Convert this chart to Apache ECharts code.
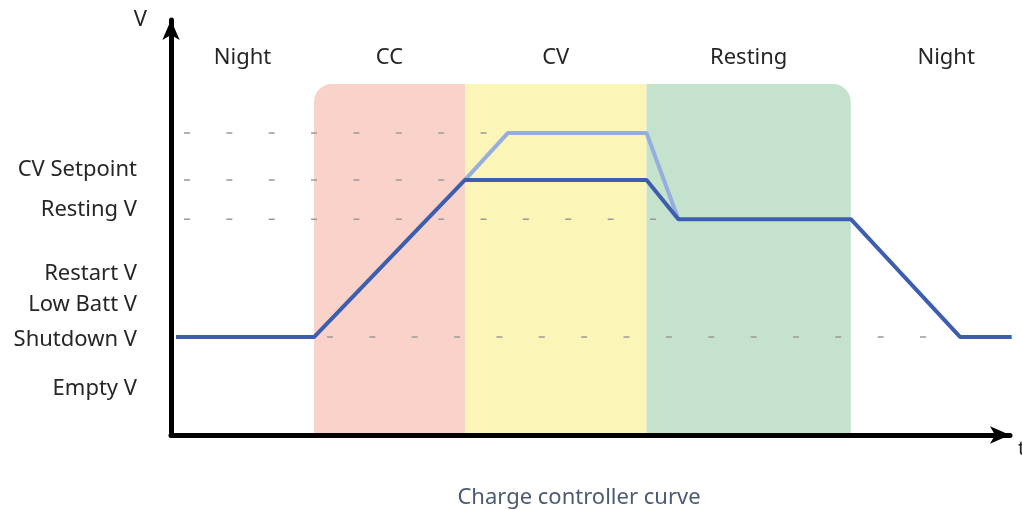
<!DOCTYPE html>
<html>
<head>
<meta charset="utf-8">
<script src="https://cdn.jsdelivr.net/npm/echarts@6/dist/echarts.min.js"></script>
<style>
  html, body { margin: 0; padding: 0; background: #fff; }
  #chart { width: 1022px; height: 510px; }
</style>
</head>
<body>
<div id="chart"></div>
<script>
// 充电阶段（x 为时间，y 为电压，单位均为任意刻度）
const phaseNames = ['Night', 'CC', 'CV', 'Resting', 'Night'];
const phaseStart = [0, 17.25, 35.46, 57.36, 82.0];
const phaseEnd = [17.25, 35.46, 57.36, 82.0, 105];
const phaseColors = [null, '#f9d3c9', '#fbf6b8', '#c5e3cc', null];
const phaseTop = 86.7;
const phaseLabelLevel = 93.3;

// 左侧电压标签
const voltNames = ['CV Setpoint', 'Resting V', 'Restart V', 'Low Batt V', 'Shutdown V', 'Empty V'];
const voltLevels = [65.4, 55.6, 39.8, 32.1, 23.5, 11.4];

// 电压曲线：深色为实际曲线，浅色为无 CV 限制时的过冲
const chargeX = [0.6, 17.25, 35.46, 57.36, 61.2, 82.0, 95.2, 101.4];
const chargeY = [24.2, 24.2, 63.0, 63.0, 53.3, 53.3, 24.2, 24.2];
const overshootX = [35.46, 40.65, 57.36, 61.2];
const overshootY = [63.0, 74.6, 74.6, 53.3];

// 虚线参考线
const guideLevels = [74.6, 63.0, 53.3, 24.2];
const guideStart = [0, 0, 0, 17.25];
const guideEnd = [40.65, 35.46, 61.2, 95.2];

const FONT = '"Noto Sans", sans-serif';
const TEXT_COLOR = '#262626';

const chart = echarts.init(document.getElementById('chart'));

const firstColored = phaseColors.findIndex(c => c);
const lastColored = phaseColors.length - 1 - [...phaseColors].reverse().findIndex(c => c);

const guideSeries = guideLevels.map((level, i) => ({
  type: 'line',
  data: [[guideStart[i], level], [guideEnd[i], level]],
  symbol: 'none',
  silent: true,
  clip: false,
  z: 3,
  lineStyle: { color: '#9a9a9a', width: 1.5, type: [6, 36.36], dashOffset: 29.36 }
}));

const option = {
  animation: false,
  backgroundColor: '#fff',
  title: {
    text: 'Charge controller curve',
    left: 574,
    textAlign: 'center',
    top: 482,
    textStyle: { color: '#4d5a73', fontSize: 22, fontWeight: 'normal', fontFamily: FONT }
  },
  grid: { left: 171, right: 12, top: 20, bottom: 75, outerBoundsMode: 'none' },
  xAxis: {
    type: 'value',
    min: 0,
    max: 101.2,
    z: 10,
    name: 't',
    nameLocation: 'end',
    nameGap: 8,
    nameTextStyle: { color: TEXT_COLOR, fontSize: 20, fontFamily: FONT, verticalAlign: 'top', padding: [4, 0, 0, 0] },
    axisLine: {
      show: true,
      symbol: ['none', 'arrow'],
      symbolSize: [13, 20],
      lineStyle: { color: '#000', width: 5 }
    },
    axisTick: { show: false },
    axisLabel: { show: false },
    splitLine: { show: false }
  },
  yAxis: {
    type: 'value',
    min: 0,
    max: 102.5,
    z: 10,
    name: 'V',
    nameLocation: 'end',
    nameGap: -11,
    nameTextStyle: { color: TEXT_COLOR, fontSize: 22, fontFamily: FONT, align: 'right', padding: [0, 24, 0, 0] },
    axisLine: {
      show: true,
      symbol: ['none', 'arrow'],
      symbolSize: [13, 20],
      lineStyle: { color: '#000', width: 5 }
    },
    axisTick: { show: false },
    splitLine: { show: false },
    axisLabel: {
      show: true,
      customValues: voltLevels,
      margin: 34,
      color: TEXT_COLOR,
      fontSize: 22,
      fontFamily: FONT,
      formatter: v => voltNames[voltLevels.indexOf(v)] || ''
    }
  },
  series: [
    {
      type: 'custom',
      silent: true,
      z: 1,
      data: phaseNames.map((n, i) => [phaseStart[i], phaseEnd[i]]),
      renderItem: (params, api) => {
        const i = params.dataIndex;
        const x0 = api.value(0);
        const x1 = api.value(1);
        const topLeft = api.coord([x0, phaseTop]);
        const bottomRight = api.coord([x1, 0]);
        const children = [];
        if (phaseColors[i]) {
          children.push({
            type: 'rect',
            shape: {
              x: topLeft[0],
              y: topLeft[1],
              width: bottomRight[0] - topLeft[0],
              height: bottomRight[1] - topLeft[1],
              r: [i === firstColored ? 18 : 0, i === lastColored ? 18 : 0, 0, 0]
            },
            style: { fill: phaseColors[i] }
          });
        }
        const c = api.coord([(x0 + x1) / 2, phaseLabelLevel]);
        children.push({
          type: 'text',
          x: c[0],
          y: c[1],
          style: {
            text: phaseNames[i],
            fill: TEXT_COLOR,
            font: '22px ' + FONT,
            align: 'center',
            verticalAlign: 'middle'
          }
        });
        return { type: 'group', children };
      }
    },
    ...guideSeries,
    {
      name: 'overshoot',
      type: 'line',
      data: overshootX.map((x, i) => [x, overshootY[i]]),
      symbol: 'none',
      clip: false,
      z: 4,
      lineStyle: { color: '#95aedf', width: 4 }
    },
    {
      name: 'charge',
      type: 'line',
      data: chargeX.map((x, i) => [x, chargeY[i]]),
      symbol: 'none',
      clip: false,
      z: 5,
      lineStyle: { color: '#3d5daf', width: 4 }
    }
  ]
};

chart.setOption(option);
</script>
</body>
</html>
